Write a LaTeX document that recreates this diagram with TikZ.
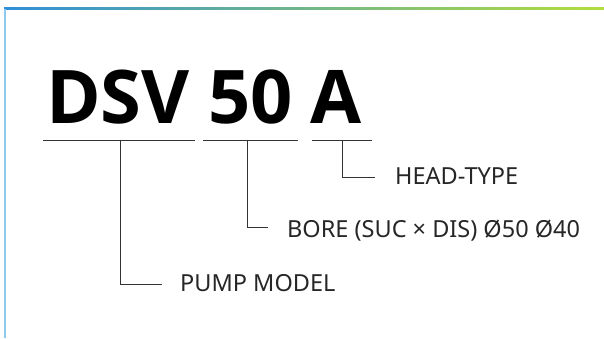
\documentclass[tikz,border=0pt]{standalone}
\usepackage{fontspec}
\setmainfont{Noto Sans}
\newfontfamily\codefont{Open Sans}
\definecolor{frameblue}{HTML}{2F8FD8}
\definecolor{framegreen}{HTML}{B2DD3C}
\definecolor{sideblue}{HTML}{8CCBEF}
\definecolor{leadgray}{HTML}{333333}
\begin{document}
\begin{tikzpicture}[
        x=1pt, y=-1pt,
        code/.style={inner sep=0pt, anchor=base west, font=\codefont\bfseries\fontsize{74}{74}\selectfont},
        part/.style={inner sep=0pt, anchor=west, font=\fontsize{23.5}{23.5}\selectfont, text=black!85},
        under/.style={draw=leadgray, line width=0.8pt},
        lead/.style={draw=leadgray, line width=0.8pt}
    ]
        \useasboundingbox (0, 0) rectangle (604, 338);
        % frame
        \shade[left color=frameblue, right color=framegreen] (4, 7) rectangle (604, 9);
        \fill[sideblue] (3.5, 9) rectangle (5.5, 338);
        % code letters
        \node[code] (dsv) at (46, 123) {DSV};
        \node[code] (size) at (208, 123) {50};
        \node[code] (head) at (310, 123) {A};
        % underlines
        \coordinate (u1a) at (43, 140);
        \coordinate (u1b) at (195, 140);
        \coordinate (u2a) at (203, 140);
        \coordinate (u2b) at (298, 140);
        \coordinate (u3a) at (312, 140);
        \coordinate (u3b) at (372, 140);
        \draw[under] (u1a) -- (u1b);
        \draw[under] (u2a) -- (u2b);
        \draw[under] (u3a) -- (u3b);
        % labels
        \node[part] (headtype) at (395, 176) {HEAD-TYPE};
        \node[part] (bore) at (287, 231) {BORE (SUC × DIS) Ø50 Ø40};
        \node[part] (model) at (180, 283) {PUMP MODEL};
        % leaders
        \coordinate (t3) at (342, 140);
        \coordinate (t2) at (247, 140);
        \coordinate (t1) at (120, 140);
        \draw[lead] (t3) |- ([xshift=-20pt, yshift=-1pt]headtype.west);
        \draw[lead] (t2) |- ([xshift=-19pt, yshift=4pt]bore.west);
        \draw[lead] (t1) |- ([xshift=-18pt, yshift=-1pt]model.west);
    \end{tikzpicture}
\end{document}
